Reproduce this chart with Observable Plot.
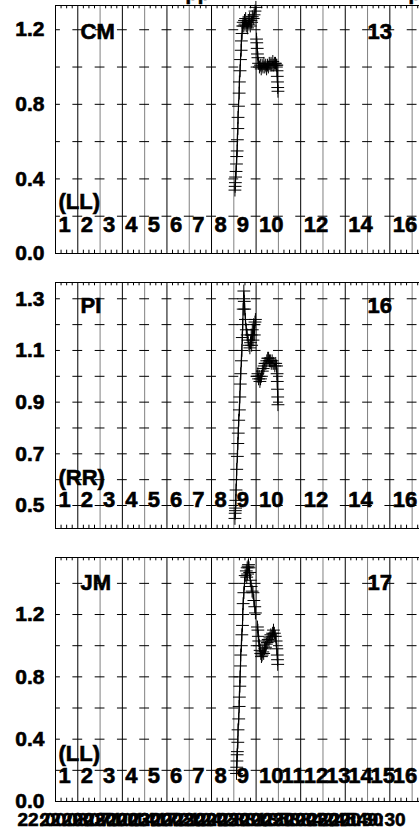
<!DOCTYPE html>
<html>
<head>
<meta charset="utf-8">
<script src="https://cdn.jsdelivr.net/npm/d3@7"></script>
<script src="https://cdn.jsdelivr.net/npm/@observablehq/plot@0.6"></script>
<style>
  html, body { margin: 0; padding: 0; background: #fff; overflow: hidden; }
  #chart svg { display: block; max-width: none !important; }
  #chart svg text { stroke: #000; stroke-width: 0.6px; paint-order: stroke; }
</style>
</head>
<body>
<div id="chart"></div>
<script>
// ---------------- data ----------------
const titleFragments = ["pp", "p"];
const timeLabels = ["22:00:00","22:03:30","22:07:00","22:10:30","22:14:00","22:17:30","22:21:00","22:24:30",
                    "22:28:00","22:31:30","22:35:00","22:38:30","22:42:00","22:45:30","22:49:30"];
const antLabelsShort = ["1","2","3","4","5","6","7","8","9","10","12","14","16"];
const antLabelsFull  = ["1","2","3","4","5","6","7","8","9","10","11","12","13","14","15","16"];

const cmYTicks = [0.0, 0.4, 0.8, 1.2];
const piYTicks = [0.5, 0.7, 0.9, 1.1, 1.3];
const jmYTicks = [0.0, 0.4, 0.8, 1.2];

// CM (LL), baseline 13
const cmTime = [8.05,8.06,8.07,8.08,8.10,8.12,8.13,8.15,8.16,8.18,8.19,8.21,8.24,8.25,8.28,8.30,8.33,8.34,8.37,8.40,
                8.42,8.45,8.48,8.50,8.53,8.56,8.59,8.62,8.65,8.68,8.71,8.74,8.77,8.80,8.83,8.87,8.91,8.95,8.99,
                9.02,9.03,9.05,9.06,9.08,9.11,9.15,9.19,9.23,9.27,9.31,9.35,9.39,9.43,9.47,9.51,9.55,9.59,9.63,9.67,9.71,9.75,9.79,9.83,9.87,9.91,
                9.93,9.94,9.95,9.96,9.97,9.98];
const cmAmp  = [0.34,0.36,0.38,0.41,0.44,0.48,0.52,0.55,0.61,0.67,0.73,0.79,0.86,0.92,0.98,1.04,1.09,1.14,1.18,1.22,
                1.24,1.22,1.25,1.23,1.26,1.22,1.24,1.21,1.25,1.23,1.26,1.22,1.25,1.24,1.27,1.26,1.28,1.30,1.32,
                1.15,1.13,1.10,1.07,1.05,1.02,1.00,1.01,0.99,1.01,1.00,1.02,1.00,1.01,0.99,1.01,1.00,1.02,1.01,1.02,1.01,1.03,1.01,1.02,1.02,1.01,
                1.01,0.98,0.95,0.92,0.89,0.87];
const cmScan = [0,0,0,0,0,0,0,0,0,0,0,0,0,0,0,0,0,0,0,0,
                0,0,0,0,0,0,0,0,0,0,0,0,0,0,0,0,0,0,0,
                1,1,1,1,1,1,1,1,1,1,1,1,1,1,1,1,1,1,1,1,1,1,1,1,1,1,
                1,1,1,1,1,1];

// PI (RR), baseline 16
const piTime = [8.05,8.06,8.07,8.08,8.09,8.10,8.12,8.13,8.16,8.18,8.20,8.22,8.25,8.27,8.29,8.31,8.34,8.36,8.38,8.40,8.42,8.44,8.45,
                8.47,8.49,8.52,8.56,8.60,8.64,8.68,8.72,8.75,8.78,8.80,8.83,8.86,8.89,8.92,8.95,8.97,
                9.05,9.08,9.11,9.14,9.17,9.20,9.24,9.28,9.32,9.36,9.40,9.44,9.48,9.52,9.56,9.60,9.64,9.68,9.72,9.76,9.80,9.84,9.88,9.92,
                9.94,9.95,9.96,9.97,9.98];
const piAmp  = [0.45,0.47,0.48,0.49,0.52,0.56,0.60,0.64,0.69,0.74,0.78,0.83,0.87,0.92,0.97,1.01,1.06,1.10,1.15,1.20,1.26,1.30,1.33,
                1.29,1.26,1.22,1.18,1.16,1.14,1.12,1.11,1.13,1.16,1.12,1.18,1.14,1.20,1.16,1.21,1.22,
                1.00,1.01,0.99,1.00,0.98,0.99,1.00,1.02,1.03,1.04,1.05,1.05,1.06,1.07,1.07,1.06,1.06,1.05,1.06,1.05,1.05,1.04,1.05,1.04,
                1.01,0.98,0.95,0.92,0.89];
const piScan = [0,0,0,0,0,0,0,0,0,0,0,0,0,0,0,0,0,0,0,0,0,0,0,
                0,0,0,0,0,0,0,0,0,0,0,0,0,0,0,0,0,
                1,1,1,1,1,1,1,1,1,1,1,1,1,1,1,1,1,1,1,1,1,1,1,1,
                1,1,1,1,1];

// JM (LL), baseline 17
const jmTime = [8.12,8.13,8.14,8.15,8.16,8.18,8.19,8.22,8.24,8.25,8.27,8.28,8.30,8.31,8.34,8.36,8.39,8.40,8.42,8.45,8.48,8.51,8.56,
                8.58,8.60,8.62,8.64,8.66,8.68,8.71,8.74,8.78,8.82,8.86,8.90,8.94,8.97,
                9.06,9.08,9.10,9.12,9.15,9.18,9.21,9.24,9.27,9.30,9.34,9.38,9.42,9.46,9.50,9.54,9.58,9.62,9.66,9.70,9.74,9.78,9.82,9.86,9.90,
                9.93,9.95,9.96,9.97];
const jmAmp  = [0.18,0.22,0.26,0.30,0.32,0.38,0.46,0.53,0.61,0.67,0.74,0.80,0.87,0.94,1.00,1.07,1.13,1.20,1.27,1.34,1.40,1.45,1.48,
                1.44,1.50,1.46,1.51,1.52,1.50,1.47,1.42,1.38,1.35,1.34,1.29,1.25,1.21,
                1.12,1.10,1.06,1.03,1.00,0.97,0.95,0.93,0.94,0.96,0.95,0.98,0.99,1.01,1.02,1.04,1.03,1.05,1.07,1.06,1.08,1.10,1.08,1.06,1.03,
                0.98,0.94,0.91,0.88];
const jmScan = [0,0,0,0,0,0,0,0,0,0,0,0,0,0,0,0,0,0,0,0,0,0,0,
                0,0,0,0,0,0,0,0,0,0,0,0,0,0,
                1,1,1,1,1,1,1,1,1,1,1,1,1,1,1,1,1,1,1,1,1,1,1,1,1,
                1,1,1,1];

// ---------------- drawing ----------------
const FONT = "'Liberation Sans', Arial, Helvetica, sans-serif";
const W = 425, ML = 55, XMAX = 16.6;
const boundaries = d3.range(0, 17);

function rows(t, a, s) { return t.map((d, i) => ({t: d, amp: a[i], scan: s[i]})); }

function panel(cfg) {
  const {height, mt, mb, domain, yTicks, gridStep, data, name, baseline, pol, ants, antDy, polDy, nameDy, timeAxis, title} = cfg;
  const pxPerUnit = (height - mt - mb) / (domain[1] - domain[0]);
  const gridVals = d3.range(Math.ceil(domain[0] / gridStep - 1e-6) * gridStep, domain[1], gridStep)
                     .map(v => +v.toFixed(2)).filter(v => v > domain[0] + 1e-6);
  const dashes = [];
  for (const g of gridVals) for (const k of boundaries) dashes.push({x1: Math.max(0, k - 0.22), x2: k + 0.22, y: g});
  const minor = d3.range(0, XMAX, 0.25).filter(v => Math.abs(v - Math.round(v)) > 1e-6);
  const tickLen = 3.3 / pxPerUnit;
  const minorRules = [];
  for (const m of minor) {
    minorRules.push({x: m, y1: domain[1], y2: domain[1] - tickLen});
    minorRules.push({x: m, y1: domain[0], y2: domain[0] + tickLen});
  }
  const txt = {fontFamily: FONT, fontWeight: "bold", fill: "black"};
  const marks = [
    Plot.ruleX(boundaries, {x: d => d, stroke: d => (d % 2 === 1 || d === 0) ? "black" : "#808080", strokeWidth: 1}),
    Plot.ruleY(dashes, {x1: "x1", x2: "x2", y: "y", stroke: "black", strokeWidth: 1}),
    Plot.ruleX(minorRules, {x: "x", y1: "y1", y2: "y2", stroke: "black", strokeWidth: 1}),
    Plot.frame({stroke: "black", strokeWidth: 1}),
    Plot.axisY({ticks: yTicks, tickSize: 0, tickPadding: 11, tickFormat: d3.format(".1f"), fontSize: 21, fontWeight: "bold", label: null}),
    Plot.line(data, {x: "t", y: "amp", z: "scan", stroke: "black", strokeWidth: 1.2}),
    Plot.dot(data, {x: "t", y: "amp", symbol: "plus", r: 4.2, stroke: "black", strokeWidth: 1}),
    Plot.text([name], {frameAnchor: "top-left", dx: 25, dy: nameDy, textAnchor: "start", lineAnchor: "middle", fontSize: 22, ...txt}),
    Plot.text([baseline], {frameAnchor: "top-left", dx: 312, dy: nameDy, textAnchor: "start", lineAnchor: "middle", fontSize: 22, ...txt}),
    Plot.text([pol], {frameAnchor: "bottom-left", dx: 3, dy: -polDy, textAnchor: "start", lineAnchor: "middle", fontSize: 22, ...txt}),
    Plot.text(ants, {x: d => +d - 1, frameAnchor: "bottom", dx: 3, dy: -antDy, textAnchor: "start", lineAnchor: "middle", fontSize: 22, ...txt})
  ];
  if (timeAxis) {
    marks.push(Plot.text(timeAxis, {x: (d, i) => i, frameAnchor: "bottom", dy: 18, textAnchor: "middle", lineAnchor: "middle", fontSize: 19, ...txt}));
  }
  if (title) {
    marks.push(Plot.text([title[0]], {frameAnchor: "top-left", dx: 130, dy: -mt - 1, textAnchor: "start", lineAnchor: "bottom", fontSize: 20, ...txt}));
    marks.push(Plot.text([title[1]], {frameAnchor: "top-left", dx: 353, dy: -mt - 1, textAnchor: "start", lineAnchor: "bottom", fontSize: 20, ...txt}));
  }
  const svg = Plot.plot({
    width: W, height,
    marginLeft: ML, marginRight: 0, marginTop: mt, marginBottom: mb,
    x: {domain: [0, XMAX], axis: null},
    y: {domain, axis: null},
    style: {fontFamily: FONT, background: "white", overflow: "visible", maxWidth: "none"},
    marks
  });
  svg.style.display = "block";
  svg.style.maxWidth = "none";
  svg.style.width = W + "px";
  svg.style.height = height + "px";
  return svg;
}

const root = document.getElementById("chart");
root.append(panel({height: 268, mt: 5, mb: 15, domain: [0, 1.33], yTicks: cmYTicks, gridStep: 0.2,
  data: rows(cmTime, cmAmp, cmScan), name: "CM", baseline: "13", pol: "(LL)", ants: antLabelsShort,
  nameDy: 26, polDy: 52, antDy: 29, title: titleFragments}));
root.append(panel({height: 275, mt: 14, mb: 15, domain: [0.411, 1.363], yTicks: piYTicks, gridStep: 0.1,
  data: rows(piTime, piAmp, piScan), name: "PI", baseline: "16", pol: "(RR)", ants: antLabelsShort,
  nameDy: 23, polDy: 51, antDy: 29}));
root.append(panel({height: 292, mt: 14, mb: 34, domain: [0, 1.566], yTicks: jmYTicks, gridStep: 0.2,
  data: rows(jmTime, jmAmp, jmScan), name: "JM", baseline: "17", pol: "(LL)", ants: antLabelsFull,
  nameDy: 25, polDy: 48, antDy: 26, timeAxis: timeLabels}));
</script>
</body>
</html>
